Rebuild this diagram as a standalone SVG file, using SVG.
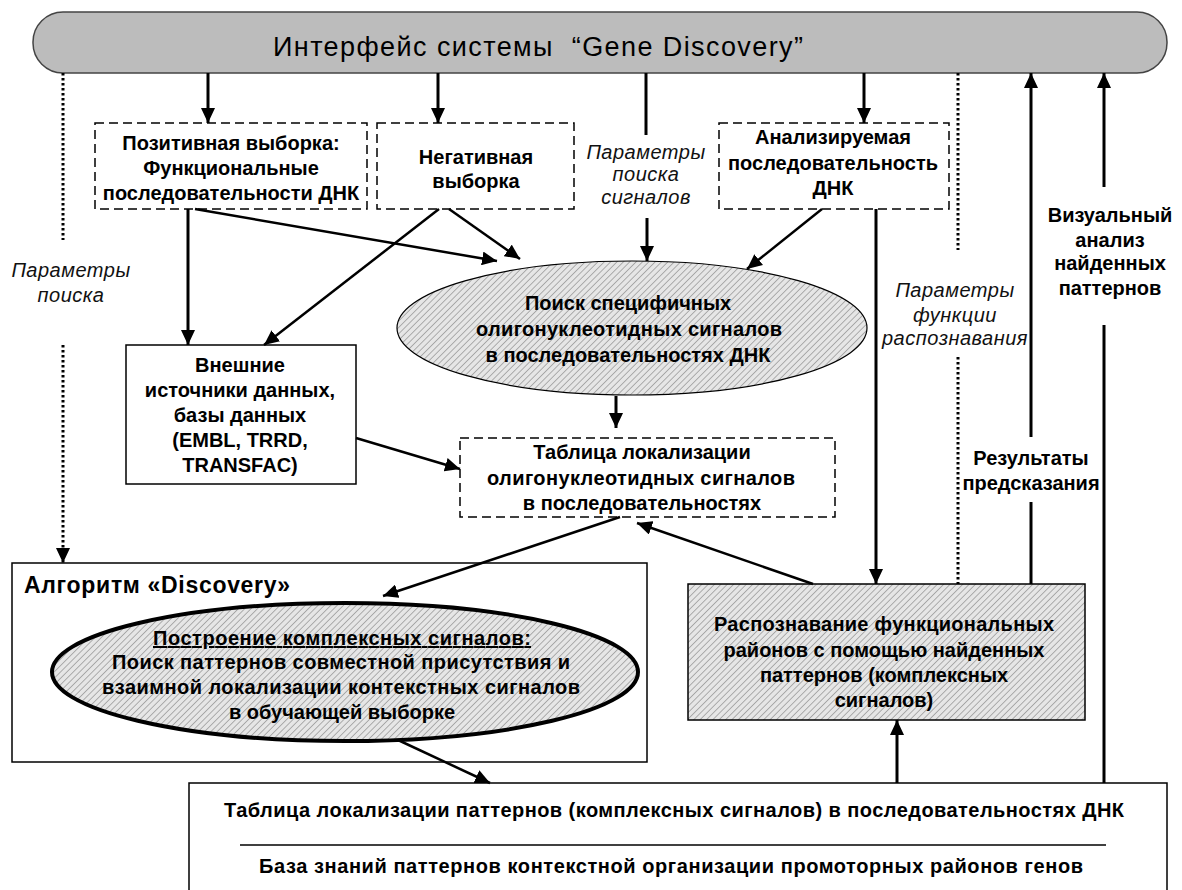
<svg xmlns="http://www.w3.org/2000/svg" width="1182" height="890" viewBox="0 0 1182 890">
<defs>
<pattern id="hatch" width="4.5" height="4.5" patternUnits="userSpaceOnUse" patternTransform="rotate(45)">
<rect width="4.5" height="4.5" fill="#e6e6e6"/>
<line x1="0" y1="0" x2="0" y2="4.5" stroke="#8c8c8c" stroke-width="1.3"/>
</pattern>
<marker id="ah" markerUnits="userSpaceOnUse" markerWidth="16" markerHeight="14" refX="15" refY="7" orient="auto">
<path d="M0,0 L15,7 L0,14 z" fill="#000"/>
</marker>
<style>
.b{font-family:"Liberation Sans",Arial,sans-serif;font-weight:bold;font-size:20px;fill:#000;text-anchor:middle}
.i{font-family:"Liberation Sans",Arial,sans-serif;font-style:italic;font-size:20px;letter-spacing:0.5px;fill:#111;text-anchor:middle}
.t{font-family:"Liberation Sans",Arial,sans-serif;font-size:27px;fill:#000}
.dash{fill:#fff;stroke:#000;stroke-width:1.5;stroke-dasharray:9 5}
.solid{fill:#fff;stroke:#000;stroke-width:1.5}
.ln{fill:none;stroke:#000;stroke-width:3}
.dg{fill:none;stroke:#000;stroke-width:2.5}
.dot{fill:none;stroke:#000;stroke-width:3;stroke-dasharray:2.5 2.5}
</style>
</defs>
<rect width="1182" height="890" fill="#fff"/>

<g id="interface">
<rect x="33" y="12" width="1134" height="61" rx="30" ry="30" fill="#bcbcbc" stroke="#444" stroke-width="1.5"/>
<text class="t" x="273" y="56" xml:space="preserve" textLength="530" lengthAdjust="spacing">Интерфейс системы  “Gene Discovery”</text>
</g>

<g id="positive">
<rect class="dash" x="95" y="123" width="272" height="86"/>
<text class="b" x="231" y="150">Позитивная выборка:</text>
<text class="b" x="231" y="175">Функциональные</text>
<text class="b" x="231" y="200">последовательности ДНК</text>
</g>

<g id="negative">
<rect class="dash" x="377" y="123" width="197" height="86"/>
<text class="b" x="476" y="164">Негативная</text>
<text class="b" x="476" y="188">выборка</text>
</g>

<g id="analyzed">
<rect class="dash" x="719" y="123" width="230" height="86"/>
<text class="b" x="833" y="144">Анализируемая</text>
<text class="b" x="833" y="170">последовательность</text>
<text class="b" x="833" y="195">ДНК</text>
</g>

<g id="search">
<ellipse cx="632" cy="328" rx="235" ry="67" fill="url(#hatch)" stroke="#000" stroke-width="1.2"/>
<text class="b" x="628" y="310">Поиск специфичных</text>
<text class="b" x="629" y="336" textLength="306">олигонуклеотидных сигналов</text>
<text class="b" x="628" y="362">в последовательностях ДНК</text>
</g>

<g id="external">
<rect class="solid" x="126" y="345" width="230" height="139"/>
<text class="b" x="240" y="372">Внешние</text>
<text class="b" x="240" y="397">источники данных,</text>
<text class="b" x="240" y="422">базы данных</text>
<text class="b" x="240" y="447">(EMBL, TRRD,</text>
<text class="b" x="240" y="472">TRANSFAC)</text>
</g>

<g id="table-oligo">
<rect class="dash" x="460" y="438" width="375" height="79"/>
<text class="b" x="642" y="459">Таблица локализации</text>
<text class="b" x="641" y="485" textLength="308">олигонуклеотидных сигналов</text>
<text class="b" x="642" y="510">в последовательностях</text>
</g>

<g id="algorithm">
<rect class="solid" x="12" y="563" width="635" height="199"/>
<text x="24" y="593" textLength="266" style="font-family:'Liberation Sans',Arial,sans-serif;font-weight:bold;font-size:23px">Алгоритм «Discovery»</text>
<ellipse cx="345" cy="672" rx="293" ry="69" fill="url(#hatch)" stroke="#000" stroke-width="4"/>
<text class="b" x="342" y="645" text-decoration="underline" textLength="378">Построение комплексных сигналов:</text>
<text class="b" x="341" y="669" textLength="458">Поиск паттернов совместной присутствия и</text>
<text class="b" x="341" y="694" textLength="478">взаимной локализации контекстных сигналов</text>
<text class="b" x="342" y="719">в обучающей выборке</text>
</g>

<g id="recognition">
<rect x="688" y="584" width="397" height="136" fill="url(#hatch)" stroke="#000" stroke-width="1.5"/>
<text class="b" x="884" y="631" textLength="340">Распознавание функциональных</text>
<text class="b" x="884" y="657">районов с помощью найденных</text>
<text class="b" x="884" y="682">паттернов (комплексных</text>
<text class="b" x="884" y="707">сигналов)</text>
</g>

<g id="knowledge">
<rect class="solid" x="189" y="783" width="978" height="120"/>
<text class="b" x="674" y="817" textLength="900">Таблица локализации паттернов (комплексных сигналов) в последовательностях ДНК</text>
<line x1="240" y1="845" x2="1106" y2="845" stroke="#000" stroke-width="1.5"/>
<text class="b" x="671" y="873" textLength="824">База знаний паттернов контекстной организации промоторных районов генов</text>
</g>

<g id="labels">
<text class="i" x="71" y="277">Параметры</text>
<text class="i" x="71" y="302">поиска</text>
<text class="i" x="646" y="159">Параметры</text>
<text class="i" x="646" y="181">поиска</text>
<text class="i" x="646" y="204">сигналов</text>
<text class="i" x="955" y="297">Параметры</text>
<text class="i" x="955" y="322">функции</text>
<text class="i" x="955" y="345">распознавания</text>
<text class="b" x="1031" y="465">Результаты</text>
<text class="b" x="1031" y="490">предсказания</text>
<text class="b" x="1110" y="222">Визуальный</text>
<text class="b" x="1110" y="247">анализ</text>
<text class="b" x="1110" y="270">найденных</text>
<text class="b" x="1110" y="295">паттернов</text>
</g>

<g id="connectors">
<path class="ln" d="M208,73 V123" marker-end="url(#ah)"/>
<path class="ln" d="M438,73 V123" marker-end="url(#ah)"/>
<path class="ln" d="M646,73 V135"/>
<path class="ln" d="M647,218 V261" marker-end="url(#ah)"/>
<path class="ln" d="M864,73 V123" marker-end="url(#ah)"/>
<path class="dot" d="M63,73 V240"/>
<path class="dot" d="M63,345 V563" marker-end="url(#ah)"/>
<path class="dot" d="M958,73 V250"/>
<path class="dot" d="M958,357 V584"/>
<path class="ln" d="M1031,584 V502"/>
<path class="ln" d="M1031,437 V73" marker-end="url(#ah)"/>
<path class="ln" d="M1104,783 V325"/>
<path class="ln" d="M1104,187 V73" marker-end="url(#ah)"/>
<path class="ln" d="M188,209 V345" marker-end="url(#ah)"/>
<path class="dg" d="M195,209 L497,261" marker-end="url(#ah)"/>
<path class="dg" d="M439,209 L264,345" marker-end="url(#ah)"/>
<path class="dg" d="M449,209 L520,259" marker-end="url(#ah)"/>
<path class="dg" d="M822,209 L747,269" marker-end="url(#ah)"/>
<path class="ln" d="M876,209 V584" marker-end="url(#ah)"/>
<path class="ln" d="M616,396 V428" marker-end="url(#ah)"/>
<path class="dg" d="M356,438 L460,469" marker-end="url(#ah)"/>
<path class="dg" d="M813,584 L637,523" marker-end="url(#ah)"/>
<path class="dg" d="M620,517 L383,596" marker-end="url(#ah)"/>
<path class="dg" d="M398,740 L490,783" marker-end="url(#ah)"/>
<path class="ln" d="M897,783 V720" marker-end="url(#ah)"/>
</g>
</svg>
